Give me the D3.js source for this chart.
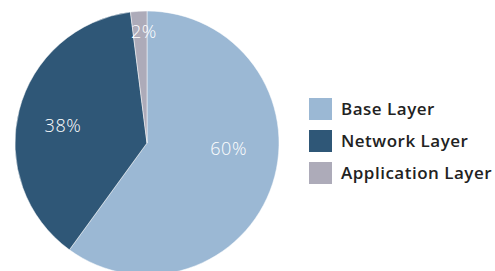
<!DOCTYPE html>
<html>
<head>
<meta charset="utf-8">
<script src="https://cdn.jsdelivr.net/npm/d3@7"></script>
<style>
  body { margin: 0; background: #fff; }
  svg { display: block; }
</style>
</head>
<body>
<svg id="chart" width="495" height="271"></svg>
<script>
// podaci
var categories = ["Base Layer", "Network Layer", "Application Layer"];
var values = [60, 38, 2];
var colors = ["#9bb8d4", "#2f5777", "#adabb9"];

var svg = d3.select("#chart"),
    cx = 147, cy = 143, radius = 132;

var pie = d3.pie().sort(null).value(function(d) { return d; });
var arcs = pie(values);

var arc = d3.arc().innerRadius(0).outerRadius(radius);

var g = svg.append("g").attr("transform", "translate(" + cx + "," + cy + ")");

g.selectAll("path.slice")
  .data(arcs)
  .enter().append("path")
  .attr("class", "slice")
  .attr("d", arc)
  .attr("fill", function(d, i) { return colors[i]; })
  .attr("stroke", "#fff")
  .attr("stroke-width", 0.5);

// labele - malo pomjerene kao u originalu
var labelRad = [0.62, 0.65, 0.84];
var labelNudge = [-14, -3, 2]; // stepeni

g.selectAll("text.lbl")
  .data(arcs)
  .enter().append("text")
  .attr("class", "lbl")
  .attr("x", function(d, i) {
    var a = (d.startAngle + d.endAngle) / 2 + labelNudge[i] * Math.PI / 180;
    return Math.sin(a) * radius * labelRad[i];
  })
  .attr("y", function(d, i) {
    var a = (d.startAngle + d.endAngle) / 2 + labelNudge[i] * Math.PI / 180;
    return -Math.cos(a) * radius * labelRad[i];
  })
  .attr("dy", "0.35em")
  .attr("text-anchor", "middle")
  .attr("font-family", "'Open Sans', sans-serif")
  .attr("font-weight", 300)
  .attr("font-size", 18)
  .attr("letter-spacing", 0.5)
  .attr("fill", "#fff")
  .text(function(d) { return d.data + "%"; });

// legenda
var legend = svg.append("g").attr("transform", "translate(309,98)");

var item = legend.selectAll("g.item")
  .data(categories)
  .enter().append("g")
  .attr("class", "item")
  .attr("transform", function(d, i) { return "translate(0," + (i * 32) + ")"; });

item.append("rect")
  .attr("width", 23)
  .attr("height", 22)
  .attr("fill", function(d, i) { return colors[i]; });

item.append("text")
  .attr("x", 32)
  .attr("y", 11)
  .attr("dy", "0.35em")
  .attr("font-family", "'Open Sans', sans-serif")
  .attr("font-weight", 600)
  .attr("font-size", 17)
  .attr("letter-spacing", 0.5)
  .attr("fill", "#222")
  .text(function(d) { return d; });
</script>
</body>
</html>
